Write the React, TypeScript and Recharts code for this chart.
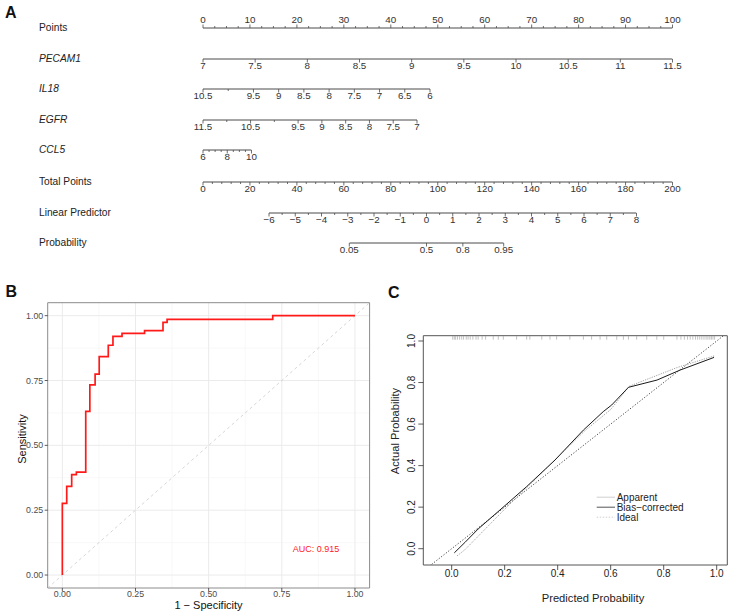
import React from "react";
import {
  LineChart,
  ComposedChart,
  Line,
  Scatter,
  XAxis,
  YAxis,
  CartesianGrid,
  ReferenceArea,
  ReferenceDot,
} from "recharts";

const FONT = "'Liberation Sans', Arial, Helvetica, sans-serif";
const AXIS_GREY = "#4a4a4a";

const seq = (from: number, to: number, by: number) =>
  Array.from({ length: Math.round((to - from) / by) + 1 }, (_, i) => from + i * by);

const logit = (p: number) => Math.log(p / (1 - p));
const expit = (v: number) => 1 / (1 + Math.exp(-v));

// ---- Panel A: nomogram scales ----
const POINTS_TICKS = seq(0, 100, 2.5);
const POINTS_LABELS = seq(0, 100, 10);
const PECAM1_TICKS = seq(7, 11.5, 0.5);
const PECAM1_LABELS = seq(7, 11.5, 0.5);
const IL18_TICKS = seq(6, 10.5, 0.5);
const IL18_LABELS = [6, 6.5, 7, 7.5, 8, 8.5, 9, 9.5, 10.5];
const EGFR_TICKS = seq(7, 11.5, 0.5);
const EGFR_LABELS = [7, 7.5, 8, 8.5, 9, 9.5, 10.5, 11.5];
const CCL5_TICKS = seq(6, 10, 0.5);
const CCL5_LABELS = [6, 8, 10];
const TOTAL_TICKS = seq(0, 200, 4);
const TOTAL_LABELS = seq(0, 200, 20);
const LP_TICKS = seq(-6, 8, 0.5);
const LP_LABELS = seq(-6, 8, 1);
const PROB_LABELS = [0.05, 0.5, 0.8, 0.95];

// ---- Panel B: ROC curve ----
const ROC_FPR = [0, 0, 0.015, 0.032, 0.048, 0.08, 0.094, 0.112, 0.126, 0.157, 0.173, 0.204, 0.281, 0.344, 0.358, 0.719, 1];
const ROC_TPR = [0, 0.276, 0.342, 0.387, 0.397, 0.631, 0.733, 0.775, 0.842, 0.886, 0.92, 0.932, 0.942, 0.974, 0.986, 1, 1];
const ROC_TICKS = [0, 0.25, 0.5, 0.75, 1];
const ROC_MINOR = [0.125, 0.375, 0.625, 0.875];
const AUC = 0.915;

// ---- Panel C: calibration curve ----
const CAL_TICKS = [0, 0.2, 0.4, 0.6, 0.8, 1];
const APPARENT_X = [0.02, 0.05, 0.1, 0.2, 0.3, 0.4, 0.5, 0.6, 0.67, 0.75, 0.85, 0.95, 0.99];
const APPARENT_Y = [-0.035, -0.005, 0.06, 0.19, 0.315, 0.44, 0.565, 0.67, 0.782, 0.822, 0.872, 0.912, 0.928];
const BIAS_X = [0.01, 0.05, 0.1, 0.19, 0.283, 0.39, 0.497, 0.572, 0.604, 0.667, 0.775, 0.862, 0.99];
const BIAS_Y = [-0.02, 0.03, 0.095, 0.195, 0.299, 0.427, 0.571, 0.66, 0.692, 0.777, 0.812, 0.86, 0.921];
const RUG_PRED = [
  0.004, 0.01, 0.015, 0.022, 0.03, 0.038, 0.045, 0.055, 0.062, 0.07, 0.08, 0.092, 0.1, 0.115, 0.128,
  0.157, 0.176, 0.195, 0.245, 0.283, 0.295, 0.34, 0.371, 0.396, 0.446, 0.497, 0.528, 0.56, 0.585,
  0.623, 0.648, 0.667, 0.698, 0.736, 0.774, 0.8,
  0.85, 0.865, 0.878, 0.89, 0.9, 0.91, 0.92, 0.928, 0.936, 0.944, 0.952, 0.96, 0.967, 0.974, 0.98, 0.986, 0.992,
];
const CAL_LEGEND = ["Apparent", "Bias−corrected", "Ideal"];

interface NomoRow {
  name: string;
  italic?: boolean;
  y: number;
  x0: number;
  x1: number;
  domain: [number, number];
  reversed?: boolean;
  ticks: number[];
  labels: number[];
  up?: boolean;
  fmt?: (v: number) => string;
}

const fmtNum = (v: number) => (v < 0 ? "−" + Math.abs(v) : String(v));

const ROWS: NomoRow[] = [
  { name: "Points", y: 27.7, x0: 203, x1: 672.5, domain: [0, 100], ticks: POINTS_TICKS, labels: POINTS_LABELS, up: true },
  { name: "PECAM1", italic: true, y: 58.5, x0: 203, x1: 672.5, domain: [7, 11.5], ticks: PECAM1_TICKS, labels: PECAM1_LABELS },
  { name: "IL18", italic: true, y: 89.3, x0: 203, x1: 430, domain: [6, 10.5], reversed: true, ticks: IL18_TICKS, labels: IL18_LABELS },
  { name: "EGFR", italic: true, y: 120, x0: 203, x1: 417, domain: [7, 11.5], reversed: true, ticks: EGFR_TICKS, labels: EGFR_LABELS },
  { name: "CCL5", italic: true, y: 150.3, x0: 203, x1: 251.5, domain: [6, 10], ticks: CCL5_TICKS, labels: CCL5_LABELS },
  { name: "Total Points", y: 181.7, x0: 203, x1: 672.5, domain: [0, 200], ticks: TOTAL_TICKS, labels: TOTAL_LABELS },
  { name: "Linear Predictor", y: 212.7, x0: 269, x1: 636.5, domain: [-6, 8], ticks: LP_TICKS, labels: LP_LABELS },
  {
    name: "Probability",
    y: 242.7,
    x0: 349.3,
    x1: 503.7,
    domain: [logit(0.05), logit(0.95)],
    ticks: PROB_LABELS.map(logit),
    labels: PROB_LABELS.map(logit),
    fmt: (v) => String(Math.round(expit(v) * 100) / 100),
  },
];

function NomoTick(props: any) {
  const { x, y, payload, row } = props;
  const v = payload.value as number;
  const labelled = row.labels.some((l: number) => Math.abs(l - v) < 1e-6);
  const dir = row.up ? -1 : 1;
  const len = labelled ? 3.5 : 2;
  return (
    <g>
      <line x1={x} y1={y} x2={x} y2={y + dir * len} stroke={AXIS_GREY} strokeWidth={0.8} />
      {labelled && (
        <text
          x={x}
          y={row.up ? y - 5.1 : y + 10.2}
          textAnchor="middle"
          fontSize={9.8}
          fill="#333"
          fontFamily={FONT}
        >
          {row.fmt ? row.fmt(v) : fmtNum(v)}
        </text>
      )}
    </g>
  );
}

// One nomogram scale: the axis segment is a flat line across the row's domain,
// the ticks come from the XAxis.
function NomogramRow({ row }: { row: NomoRow }) {
  const H = 34;
  const AXIS_Y = 18;
  const segment = [
    { v: row.domain[0], y: 0 },
    { v: row.domain[1], y: 0 },
  ];
  return (
    <div style={{ position: "absolute", left: 0, top: row.y - AXIS_Y }}>
      <LineChart
        width={729}
        height={H}
        margin={{ top: 4, right: 729 - row.x1, bottom: H - AXIS_Y - 1, left: row.x0 }}
      >
        <XAxis
          type="number"
          dataKey="v"
          domain={row.domain}
          allowDataOverflow
          reversed={row.reversed}
          ticks={row.ticks}
          interval={0}
          height={1}
          tickSize={0}
          tickMargin={0}
          tickLine={false}
          axisLine={false}
          tick={(p: any) => <NomoTick {...p} row={row} />}
        />
        <YAxis hide type="number" domain={[0, 1]} />
        <Line
          data={segment}
          dataKey="y"
          stroke={AXIS_GREY}
          strokeWidth={1}
          dot={false}
          isAnimationActive={false}
        />
      </LineChart>
    </div>
  );
}

function RocPanel() {
  const roc = ROC_FPR.map((x, i) => ({ x, y: ROC_TPR[i] }));
  const diagonal = [
    { x: -0.05, y: -0.05 },
    { x: 1.05, y: 1.05 },
  ];
  return (
    <div style={{ position: "absolute", left: 0, top: 270 }}>
      <LineChart width={380} height={344} margin={{ top: 32.7, right: 10.4, bottom: 0, left: 7.7 }}>
        <CartesianGrid verticalValues={ROC_MINOR} horizontalValues={ROC_MINOR} stroke="#f4f4f4" strokeWidth={0.6} />
        <CartesianGrid verticalValues={ROC_TICKS} horizontalValues={ROC_TICKS} stroke="#ebebeb" strokeWidth={1} />
        <XAxis
          type="number"
          dataKey="x"
          domain={[-0.05, 1.05]}
          allowDataOverflow
          ticks={ROC_TICKS}
          interval={0}
          tickFormatter={(v: number) => v.toFixed(2)}
          height={26}
          axisLine={false}
          tickSize={3}
          tickMargin={0}
          tickLine={{ stroke: "#333", strokeWidth: 0.8 }}
          tick={{ fontSize: 8.8, fill: "#4d4d4d", fontFamily: FONT }}
        />
        <YAxis
          type="number"
          dataKey="y"
          domain={[-0.05, 1.05]}
          allowDataOverflow
          ticks={ROC_TICKS}
          interval={0}
          tickFormatter={(v: number) => v.toFixed(2)}
          width={40}
          axisLine={false}
          tickSize={3}
          tickMargin={1.5}
          tickLine={{ stroke: "#333", strokeWidth: 0.8 }}
          tick={{ fontSize: 8.8, fill: "#4d4d4d", fontFamily: FONT }}
        />
        <Line
          data={diagonal}
          dataKey="y"
          stroke="#c4c4c4"
          strokeWidth={0.7}
          strokeDasharray="3 3"
          dot={false}
          isAnimationActive={false}
        />
        <Line
          data={roc}
          dataKey="y"
          type="stepAfter"
          stroke="#ff1a1a"
          strokeWidth={1.7}
          dot={false}
          isAnimationActive={false}
        />
        <ReferenceDot
          x={0.867}
          y={0.1}
          r={0}
          fill="none"
          stroke="none"
          label={{ value: `AUC:  ${AUC.toFixed(3)}`, fill: "#ff1a1a", fontSize: 9, fontFamily: FONT, position: "center" }}
        />
        <ReferenceArea x1={-0.05} x2={1.05} y1={-0.05} y2={1.05} fill="none" stroke="#8c8c8c" strokeWidth={1} />
      </LineChart>
    </div>
  );
}

function RotatedTick(props: any) {
  const { x, y, payload } = props;
  return (
    <text
      x={x}
      y={y}
      transform={`rotate(-90 ${x} ${y})`}
      textAnchor="middle"
      fontSize={10}
      fill="#222"
      fontFamily={FONT}
    >
      {(payload.value as number).toFixed(1)}
    </text>
  );
}

function RugMark(props: any) {
  const { cx, cy } = props;
  return <line x1={cx} y1={cy} x2={cx} y2={cy + 4} stroke="#a8a8a8" strokeWidth={0.7} />;
}

function CalibrationPanel() {
  const apparent = APPARENT_X.map((x, i) => ({ x, y: APPARENT_Y[i] }));
  const bias = BIAS_X.map((x, i) => ({ x, y: BIAS_Y[i] }));
  const ideal = [
    { x: -0.2, y: -0.2 },
    { x: 1.2, y: 1.2 },
  ];
  const yTop = 1.0255;
  const rug = RUG_PRED.map((x) => ({ x, y: yTop }));
  return (
    <div style={{ position: "absolute", left: 370, top: 270 }}>
      <ComposedChart width={359} height={344} margin={{ top: 65.7, right: 1.7, bottom: 29, left: 33.3 }}>
        <XAxis
          type="number"
          dataKey="x"
          domain={[-0.107, 1.04]}
          allowDataOverflow
          ticks={CAL_TICKS}
          interval={0}
          tickFormatter={(v: number) => v.toFixed(1)}
          height={20}
          axisLine={false}
          tickSize={5}
          tickMargin={0}
          tickLine={{ stroke: "#333", strokeWidth: 0.8 }}
          tick={{ fontSize: 10, fill: "#222", fontFamily: FONT }}
        />
        <YAxis
          type="number"
          dataKey="y"
          domain={[-0.0785, yTop]}
          allowDataOverflow
          ticks={CAL_TICKS}
          interval={0}
          width={20}
          axisLine={false}
          tickSize={5}
          tickMargin={3}
          tickLine={{ stroke: "#333", strokeWidth: 0.8 }}
          tick={(p: any) => <RotatedTick {...p} />}
        />
        <Line
          data={ideal}
          dataKey="y"
          stroke="#444"
          strokeWidth={1}
          strokeDasharray="1.2 1.8"
          dot={false}
          isAnimationActive={false}
        />
        <Line
          data={apparent}
          dataKey="y"
          stroke="#a0a0a0"
          strokeWidth={1}
          strokeDasharray="1.2 1.2"
          dot={false}
          isAnimationActive={false}
        />
        <Line data={bias} dataKey="y" stroke="#1a1a1a" strokeWidth={1} dot={false} isAnimationActive={false} />
        <Scatter data={rug} dataKey="y" shape={(p: any) => <RugMark {...p} />} isAnimationActive={false} />
        <ReferenceArea x1={-0.107} x2={1.04} y1={-0.0785} y2={yTop} fill="none" stroke="#555" strokeWidth={1} />
      </ComposedChart>
    </div>
  );
}

export default function App() {
  const legendY = [497.2, 507.2, 517.2];
  const legendStroke = ["#cfcfcf", "#555", "#cfcfcf"];
  return (
    <div
      style={{
        position: "absolute",
        left: 0,
        top: 0,
        width: 729,
        height: 614,
        background: "#fff",
        fontFamily: FONT,
        overflow: "hidden",
      }}
    >
      {ROWS.map((r) => (
        <NomogramRow key={r.name} row={r} />
      ))}
      <RocPanel />
      <CalibrationPanel />
      <svg
        width={729}
        height={614}
        style={{ position: "absolute", left: 0, top: 0, pointerEvents: "none" }}
        fontFamily={FONT}
      >
        {/* panel letters */}
        <text x={5} y={17.5} fontSize={16} fontWeight="bold" fill="#111">A</text>
        <text x={5.5} y={297} fontSize={16} fontWeight="bold" fill="#111">B</text>
        <text x={388} y={297.5} fontSize={16} fontWeight="bold" fill="#111">C</text>

        {/* nomogram row names */}
        {ROWS.map((r) => (
          <text
            key={r.name}
            x={39}
            y={r.y + 3}
            fontSize={10.2}
            fontStyle={r.italic ? "italic" : "normal"}
            fill="#222"
          >
            {r.name}
          </text>
        ))}

        {/* ROC axis titles */}
        <text transform="translate(25.7 439) rotate(-90)" textAnchor="middle" fontSize={11} fill="#111">
          Sensitivity
        </text>
        <text x={208.5} y={608.5} textAnchor="middle" fontSize={11} fill="#111">
          1 − Specificity
        </text>

        {/* calibration axis titles */}
        <text transform="translate(399 431) rotate(-90)" textAnchor="middle" fontSize={11.2} fill="#222">
          Actual Probability
        </text>
        <text x={593} y={602.3} textAnchor="middle" fontSize={11.2} fill="#222">
          Predicted Probability
        </text>

        {/* calibration legend */}
        {CAL_LEGEND.map((name, i) => (
          <g key={name}>
            <line
              x1={596.7}
              x2={615}
              y1={legendY[i]}
              y2={legendY[i]}
              stroke={legendStroke[i]}
              strokeWidth={1}
              strokeDasharray={i === 2 ? "1.5 1.5" : undefined}
            />
            <text x={616.7} y={legendY[i] + 3.5} fontSize={10} fill="#222">
              {name}
            </text>
          </g>
        ))}
      </svg>
    </div>
  );
}
